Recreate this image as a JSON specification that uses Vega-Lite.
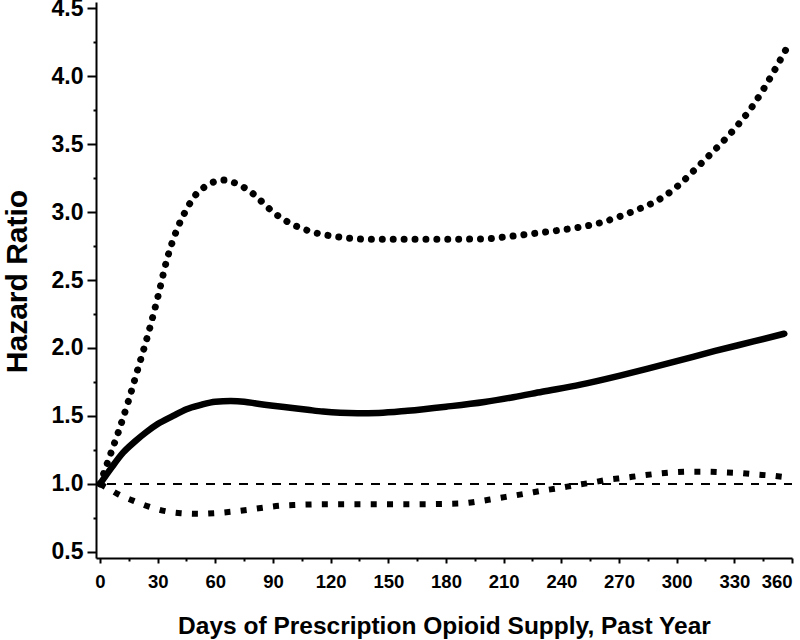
{
  "$schema": "https://vega.github.io/schema/vega-lite/v6.json",
  "autosize": {"type": "none"},
  "padding": {"left": 96, "top": 2, "right": 8, "bottom": 82},
  "width": 696,
  "height": 556,
  "background": "white",
  "config": {"view": {"stroke": null}},
  "datasets": {
    "hr": [
      {"series": "Estimate", "day": 0, "hr": 1.0},
      {"series": "Estimate", "day": 6, "hr": 1.12},
      {"series": "Estimate", "day": 12, "hr": 1.23},
      {"series": "Estimate", "day": 18, "hr": 1.31},
      {"series": "Estimate", "day": 24, "hr": 1.38},
      {"series": "Estimate", "day": 30, "hr": 1.44},
      {"series": "Estimate", "day": 38, "hr": 1.5},
      {"series": "Estimate", "day": 45, "hr": 1.55},
      {"series": "Estimate", "day": 52, "hr": 1.58},
      {"series": "Estimate", "day": 60, "hr": 1.605},
      {"series": "Estimate", "day": 68, "hr": 1.61},
      {"series": "Estimate", "day": 75, "hr": 1.605},
      {"series": "Estimate", "day": 82, "hr": 1.59},
      {"series": "Estimate", "day": 90, "hr": 1.575},
      {"series": "Estimate", "day": 99, "hr": 1.56},
      {"series": "Estimate", "day": 108, "hr": 1.545},
      {"series": "Estimate", "day": 116, "hr": 1.532},
      {"series": "Estimate", "day": 125, "hr": 1.523},
      {"series": "Estimate", "day": 134, "hr": 1.52},
      {"series": "Estimate", "day": 145, "hr": 1.522},
      {"series": "Estimate", "day": 160, "hr": 1.538},
      {"series": "Estimate", "day": 180, "hr": 1.568},
      {"series": "Estimate", "day": 200, "hr": 1.603},
      {"series": "Estimate", "day": 215, "hr": 1.638},
      {"series": "Estimate", "day": 230, "hr": 1.678},
      {"series": "Estimate", "day": 250, "hr": 1.73},
      {"series": "Estimate", "day": 270, "hr": 1.795},
      {"series": "Estimate", "day": 285, "hr": 1.848},
      {"series": "Estimate", "day": 300, "hr": 1.903},
      {"series": "Estimate", "day": 320, "hr": 1.978},
      {"series": "Estimate", "day": 340, "hr": 2.048},
      {"series": "Estimate", "day": 356, "hr": 2.105},

      {"series": "Upper", "day": 0, "hr": 1.0},
      {"series": "Upper", "day": 5, "hr": 1.2},
      {"series": "Upper", "day": 10, "hr": 1.4},
      {"series": "Upper", "day": 15, "hr": 1.62},
      {"series": "Upper", "day": 20, "hr": 1.86},
      {"series": "Upper", "day": 25, "hr": 2.1},
      {"series": "Upper", "day": 30, "hr": 2.37},
      {"series": "Upper", "day": 35, "hr": 2.66},
      {"series": "Upper", "day": 40, "hr": 2.87},
      {"series": "Upper", "day": 45, "hr": 3.02},
      {"series": "Upper", "day": 50, "hr": 3.13},
      {"series": "Upper", "day": 55, "hr": 3.19},
      {"series": "Upper", "day": 60, "hr": 3.225},
      {"series": "Upper", "day": 65, "hr": 3.235},
      {"series": "Upper", "day": 70, "hr": 3.215},
      {"series": "Upper", "day": 75, "hr": 3.18},
      {"series": "Upper", "day": 80, "hr": 3.13},
      {"series": "Upper", "day": 85, "hr": 3.065},
      {"series": "Upper", "day": 90, "hr": 3.0},
      {"series": "Upper", "day": 95, "hr": 2.95},
      {"series": "Upper", "day": 100, "hr": 2.91},
      {"series": "Upper", "day": 105, "hr": 2.88},
      {"series": "Upper", "day": 110, "hr": 2.855},
      {"series": "Upper", "day": 120, "hr": 2.825},
      {"series": "Upper", "day": 130, "hr": 2.807},
      {"series": "Upper", "day": 140, "hr": 2.8},
      {"series": "Upper", "day": 160, "hr": 2.8},
      {"series": "Upper", "day": 180, "hr": 2.8},
      {"series": "Upper", "day": 200, "hr": 2.802},
      {"series": "Upper", "day": 210, "hr": 2.815},
      {"series": "Upper", "day": 220, "hr": 2.832},
      {"series": "Upper", "day": 230, "hr": 2.85},
      {"series": "Upper", "day": 240, "hr": 2.868},
      {"series": "Upper", "day": 250, "hr": 2.89},
      {"series": "Upper", "day": 260, "hr": 2.92},
      {"series": "Upper", "day": 270, "hr": 2.965},
      {"series": "Upper", "day": 280, "hr": 3.02},
      {"series": "Upper", "day": 290, "hr": 3.085},
      {"series": "Upper", "day": 300, "hr": 3.185},
      {"series": "Upper", "day": 310, "hr": 3.32},
      {"series": "Upper", "day": 320, "hr": 3.46},
      {"series": "Upper", "day": 330, "hr": 3.61},
      {"series": "Upper", "day": 340, "hr": 3.79},
      {"series": "Upper", "day": 350, "hr": 4.02},
      {"series": "Upper", "day": 357, "hr": 4.2},

      {"series": "Lower", "day": 0, "hr": 1.0},
      {"series": "Lower", "day": 5, "hr": 0.96},
      {"series": "Lower", "day": 10, "hr": 0.92},
      {"series": "Lower", "day": 17.5, "hr": 0.875},
      {"series": "Lower", "day": 25, "hr": 0.835},
      {"series": "Lower", "day": 34, "hr": 0.8},
      {"series": "Lower", "day": 42, "hr": 0.785},
      {"series": "Lower", "day": 51, "hr": 0.78},
      {"series": "Lower", "day": 60, "hr": 0.785},
      {"series": "Lower", "day": 68, "hr": 0.795},
      {"series": "Lower", "day": 77, "hr": 0.81},
      {"series": "Lower", "day": 85, "hr": 0.825},
      {"series": "Lower", "day": 94, "hr": 0.84},
      {"series": "Lower", "day": 102, "hr": 0.846},
      {"series": "Lower", "day": 115, "hr": 0.85},
      {"series": "Lower", "day": 140, "hr": 0.851},
      {"series": "Lower", "day": 165, "hr": 0.851},
      {"series": "Lower", "day": 186, "hr": 0.855},
      {"series": "Lower", "day": 197, "hr": 0.872},
      {"series": "Lower", "day": 205, "hr": 0.89},
      {"series": "Lower", "day": 213.5, "hr": 0.91},
      {"series": "Lower", "day": 222, "hr": 0.93},
      {"series": "Lower", "day": 230, "hr": 0.95},
      {"series": "Lower", "day": 239, "hr": 0.97},
      {"series": "Lower", "day": 247, "hr": 0.99},
      {"series": "Lower", "day": 256, "hr": 1.01},
      {"series": "Lower", "day": 264, "hr": 1.03},
      {"series": "Lower", "day": 273, "hr": 1.045},
      {"series": "Lower", "day": 281, "hr": 1.06},
      {"series": "Lower", "day": 290, "hr": 1.075},
      {"series": "Lower", "day": 298, "hr": 1.085},
      {"series": "Lower", "day": 307, "hr": 1.09},
      {"series": "Lower", "day": 316, "hr": 1.09},
      {"series": "Lower", "day": 324, "hr": 1.086},
      {"series": "Lower", "day": 333, "hr": 1.08},
      {"series": "Lower", "day": 341, "hr": 1.07},
      {"series": "Lower", "day": 350, "hr": 1.06},
      {"series": "Lower", "day": 356, "hr": 1.05}
    ]
  },
  "data": {"name": "hr"},
  "encoding": {
    "x": {
      "field": "day",
      "type": "quantitative",
      "scale": {"domain": [-2.08, 360], "nice": false, "zero": false},
      "axis": {
        "title": "Days of Prescription Opioid Supply, Past Year",
        "values": [0, 15, 30, 45, 60, 75, 90, 105, 120, 135, 150, 165, 180, 195, 210, 225, 240, 255, 270, 285, 300, 315, 330, 345, 360],
        "labelExpr": "datum.value % 30 === 0 ? datum.label : ''",
        "grid": false,
        "domainColor": "black",
        "domainWidth": 2,
        "tickColor": "black",
        "tickWidth": 2,
        "tickSize": {"condition": {"test": "datum.value % 30 === 0", "value": 5}, "value": 3},
        "labelFont": "Liberation Sans",
        "labelFontWeight": "bold",
        "labelFontSize": 18.5,
        "labelColor": "black",
        "labelPadding": 9,
        "labelFlush": true,
        "labelOverlap": false,
        "titleFont": "Liberation Sans",
        "titleFontWeight": "bold",
        "titleFontSize": 24.5,
        "titleColor": "black",
        "titleBaseline": "alphabetic",
        "titleX": 348,
        "titleY": 75
      }
    },
    "y": {
      "field": "hr",
      "type": "quantitative",
      "scale": {"domain": [0.455, 4.545], "nice": false, "zero": false},
      "axis": {
        "title": "Hazard Ratio",
        "values": [0.5, 0.75, 1, 1.25, 1.5, 1.75, 2, 2.25, 2.5, 2.75, 3, 3.25, 3.5, 3.75, 4, 4.25, 4.5],
        "labelExpr": "datum.value % 0.5 === 0 ? format(datum.value, '.1f') : ''",
        "grid": false,
        "domainColor": "black",
        "domainWidth": 2,
        "tickColor": "black",
        "tickWidth": 2,
        "tickSize": {"condition": {"test": "datum.value % 0.5 === 0", "value": 9}, "value": 3},
        "labelFont": "Liberation Sans",
        "labelFontWeight": "bold",
        "labelFontSize": 23,
        "labelColor": "black",
        "labelPadding": 4,
        "labelFlush": false,
        "labelOverlap": false,
        "titleFont": "Liberation Sans",
        "titleFontWeight": "bold",
        "titleFontSize": 30,
        "titleColor": "black",
        "titleBaseline": "alphabetic",
        "titleX": -70,
        "titleY": 279
      }
    }
  },
  "layer": [
    {
      "mark": {"type": "rule", "color": "black", "strokeWidth": 2, "strokeDash": [8, 8.5]},
      "encoding": {"y": {"datum": 1}, "x": null}
    },
    {
      "transform": [{"filter": "datum.series === 'Upper'"}],
      "mark": {"type": "line", "color": "black", "strokeWidth": 7, "strokeDash": [0.01, 10.9], "strokeCap": "round", "interpolate": "monotone"}
    },
    {
      "transform": [{"filter": "datum.series === 'Lower'"}],
      "mark": {"type": "line", "color": "black", "strokeWidth": 6, "strokeDash": [6, 10.3], "strokeCap": "butt", "interpolate": "monotone"}
    },
    {
      "transform": [{"filter": "datum.series === 'Estimate'"}],
      "mark": {"type": "line", "color": "black", "strokeWidth": 6.5, "strokeCap": "round", "strokeJoin": "round", "interpolate": "monotone"}
    }
  ]
}
